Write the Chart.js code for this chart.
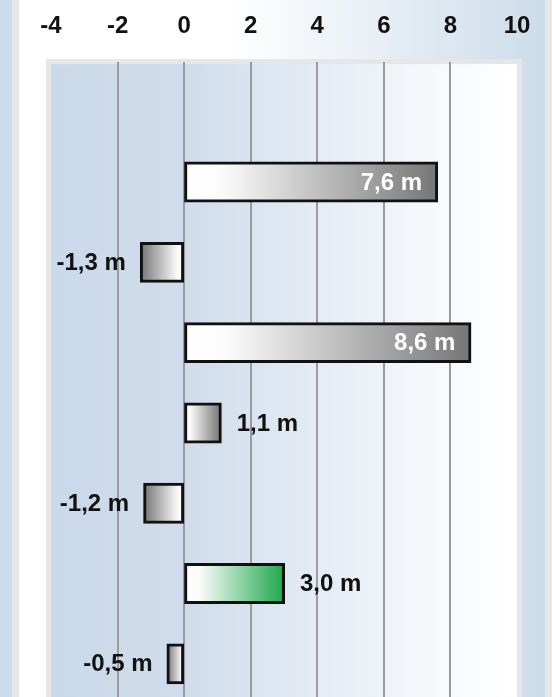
<!DOCTYPE html>
<html>
<head>
<meta charset="utf-8">
<script src="https://cdn.jsdelivr.net/npm/chart.js@4/dist/chart.umd.min.js"></script>
<style>
  html, body { margin: 0; padding: 0; overflow: hidden; }
  body { width: 552px; height: 697px; background: #cddcea; position: relative; }
  .panel {
    position: absolute; left: 12px; top: 0; width: 526px; height: 720px;
    border-left: 7px solid #e6e6e6; border-right: 7px solid #e6e6e6;
    background: linear-gradient(to right, #ffffff 0%, #ffffff 40%, #cddcea 100%);
  }
  #chart { position: absolute; left: 0; top: 0; }
</style>
</head>
<body>
<div class="panel"></div>
<canvas id="chart" width="552" height="704"></canvas>
<script>
// rows top to bottom, first row is empty
const rows = ["", "r1", "r2", "r3", "r4", "r5", "r6", "r7"];
const values = [null, 7.6, -1.3, 8.6, 1.1, -1.2, 3.0, -0.5];
const endColors = [null, "#767676", "#767676", "#767676", "#767676", "#767676", "#1ca84b", "#767676"];
const axisMin = -4;
const axisMax = 10;
const axisStep = 2;

const FONT = '"Liberation Sans", Arial, sans-serif';

function fmt(v) {
  return v.toFixed(1).replace(".", ",") + " m";
}

const plotBg = {
  id: "plotBg",
  beforeDraw(chart) {
    const { ctx, chartArea: a } = chart;
    ctx.save();
    ctx.fillStyle = "#e6e6e6";
    ctx.fillRect(a.left - 5, a.top - 2.5, a.right - a.left + 10, a.bottom - a.top + 10);
    var g = ctx.createLinearGradient(a.left, 0, a.right, 0);
    g.addColorStop(0, "#cad9ea");
    g.addColorStop(0.28, "#cfdceb");
    g.addColorStop(0.55, "#e3eaf4");
    g.addColorStop(0.8, "#f5f8fb");
    g.addColorStop(1, "#ffffff");
    ctx.fillStyle = g;
    ctx.fillRect(a.left, a.top + 2.5, a.right - a.left, a.bottom - a.top);
    ctx.restore();
  },
};

const valueLabels = {
  id: "valueLabels",
  afterDatasetsDraw(chart) {
    const ctx = chart.ctx;
    const meta = chart.getDatasetMeta(0);
    ctx.save();
    ctx.font = "bold 24px " + FONT;
    ctx.textBaseline = "middle";
    meta.data.forEach((bar, i) => {
      const v = values[i];
      if (v == null) return;
      const text = fmt(v);
      if (v > 5) {
        ctx.fillStyle = "#ffffff";
        ctx.textAlign = "right";
        ctx.fillText(text, bar.x - 15, bar.y + 1);
      } else if (v >= 0) {
        ctx.fillStyle = "#111111";
        ctx.textAlign = "left";
        ctx.fillText(text, bar.x + 16, bar.y + 1);
      } else {
        ctx.fillStyle = "#111111";
        ctx.textAlign = "right";
        ctx.fillText(text, bar.x - 15, bar.y + 1);
      }
    });
    ctx.restore();
  },
};

new Chart(document.getElementById("chart"), {
  type: "bar",
  data: {
    labels: rows,
    datasets: [
      {
        data: values,
        backgroundColor: (c) => {
          const chart = c.chart;
          const xs = chart.scales.x;
          const v = c.raw;
          if (!xs || v == null) return "#999";
          const x0 = xs.getPixelForValue(0);
          const x1 = xs.getPixelForValue(v);
          const g = chart.ctx.createLinearGradient(x0, 0, x1, 0);
          g.addColorStop(0, "#ffffff");
          g.addColorStop(0.15, "#fbfbfb");
          g.addColorStop(1, endColors[c.dataIndex]);
          return g;
        },
        borderColor: "#111111",
        borderWidth: 3,
        borderSkipped: false,
        inflateAmount: 1,
        categoryPercentage: 1,
        barPercentage: 0.485,
      },
    ],
  },
  options: {
    indexAxis: "y",
    responsive: false,
    animation: false,
    layout: { padding: { left: 51, right: 35, top: 0, bottom: 0 } },
    plugins: {
      legend: { display: false },
      tooltip: { enabled: false },
    },
    scales: {
      x: {
        position: "top",
        min: axisMin,
        max: axisMax,
        afterFit: (s) => { s.height = 61.6; },
        ticks: {
          stepSize: axisStep,
          padding: 21,
          color: "#111111",
          font: { family: FONT, size: 24, weight: "bold" },
        },
        grid: {
          drawTicks: false,
          lineWidth: 2,
          color: (c) => {
            const v = c.tick ? c.tick.value : null;
            return v === axisMin || v === axisMax ? "rgba(0,0,0,0)" : "#9a9a9a";
          },
        },
        border: { display: false },
      },
      y: {
        display: false,
        grid: { display: false },
      },
    },
  },
  plugins: [plotBg, valueLabels],
});
</script>
</body>
</html>
